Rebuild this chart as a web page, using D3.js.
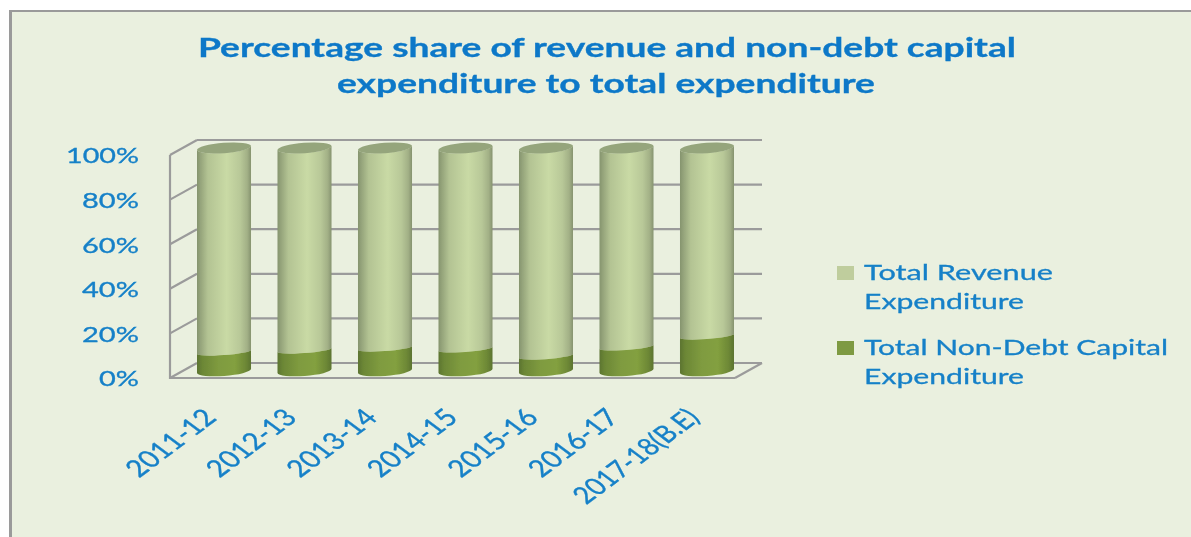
<!DOCTYPE html>
<html><head><meta charset="utf-8">
<script src="https://cdnjs.cloudflare.com/ajax/libs/d3/7.8.5/d3.min.js"></script>
<style>html,body{margin:0;padding:0;background:#fff;overflow:hidden}svg{display:block}text{font-family:Lato,sans-serif}</style>
</head><body><svg id="c" width="1191" height="537"></svg>
<script>
const categories=["2011-12","2012-13","2013-14","2014-15","2015-16","2016-17","2017-18(B.E)"];
const capitalShare=[8.5,9.4,10.3,9.9,6.7,10.8,15.7];
const revenueShare=[91.5,90.6,89.7,90.1,93.3,89.2,84.3];
const yTicks=[0,20,40,60,80,100];
const titleLines=["Percentage share of revenue and non-debt capital","expenditure to total expenditure"];
const legendItems=[{key:"revenue",lines:["Total Revenue","Expenditure"]},{key:"capital",lines:["Total Non-Debt Capital","Expenditure"]}];

const textBlue="#1580c8", grid="#9b9b9b";
const svg=d3.select("#c");
const defs=svg.append("defs");
defs.append("filter").attr("id","soft")
  .attr("filterUnits","userSpaceOnUse").attr("x",0).attr("y",0).attr("width",1191).attr("height",537)
  .append("feGaussianBlur").attr("stdDeviation",0.6);
function grad(id,stops){const g=defs.append("linearGradient").attr("id",id);
  stops.forEach(([o,c])=>g.append("stop").attr("offset",o).attr("stop-color",c));}
grad("gLight",[[0,"#85946e"],[.06,"#94a37a"],[.2,"#b3c393"],[.55,"#c9daa5"],[.8,"#b8c898"],[.93,"#a2b086"],[1,"#86936f"]]);
grad("gDark",[[0,"#5c7430"],[.1,"#6c8736"],[.4,"#7f9b3f"],[.7,"#83a03f"],[.9,"#6d8836"],[1,"#5c7430"]]);

// panel
svg.append("rect").attr("x",9).attr("y",10).attr("width",1182).attr("height",527).attr("fill","#9a9a9a");
svg.append("rect").attr("x",12).attr("y",12).attr("width",1179).attr("height",525).attr("fill","#eaf0df");

// scales
const yFront=d3.scaleLinear().domain([0,100]).range([378,155]);
const yCyl=d3.scaleLinear().domain([0,100]).range([373,150]);
const x=d3.scaleBand().domain(categories).range([197,734]).paddingInner(0.329).paddingOuter(0);
const xWall=d3.scaleLinear().domain([0,1]).range([170,735]);
const dx=27, dy=-15;

// walls
const wall=svg.append("g").attr("fill","none").attr("stroke",grid).attr("stroke-width",2.2).attr("filter","url(#soft)");
yTicks.forEach(t=>{
  const y=yFront(t);
  wall.append("line").attr("x1",xWall(0)).attr("y1",y).attr("x2",xWall(0)+dx).attr("y2",y+dy);
  wall.append("line").attr("x1",xWall(0)+dx).attr("y1",y+dy).attr("x2",xWall(1)+dx).attr("y2",y+dy);
});
wall.append("line").attr("x1",xWall(0)).attr("y1",yFront(100)).attr("x2",xWall(0)).attr("y2",yFront(0)+1);
wall.append("line").attr("x1",xWall(0)).attr("y1",yFront(0)).attr("x2",xWall(1)).attr("y2",yFront(0));
wall.append("line").attr("x1",xWall(1)).attr("y1",yFront(0)).attr("x2",xWall(1)+dx).attr("y2",yFront(0)+dy);

// cylinders
const rows=categories.map((c,i)=>({cat:c,capital:capitalShare[i],revenue:revenueShare[i]}));
const stacked=d3.stack().keys(["capital","revenue"])(rows);
const tilt=4, ryEnd=5.2, ryMid=3.2, rot=-4.3;
function seg(cat,lo,hi){
  const x0=x(cat), x1=x0+x.bandwidth(), rx=x.bandwidth()/2+0.1;
  const yl=yCyl(lo), yh=yCyl(hi);
  const ryL=lo<0.01?ryEnd:ryMid, ryH=hi>99.9?ryEnd:ryMid;
  return `M${x0},${yh}L${x0},${yl}A${rx},${ryL} ${rot} 0 0 ${x1},${yl-tilt}L${x1},${yh-tilt}A${rx},${ryH} ${rot} 0 1 ${x0},${yh}Z`;
}
const fills={capital:"url(#gDark)",revenue:"url(#gLight)"};
const columns=svg.append("g").attr("filter","url(#soft)");
[stacked[1],stacked[0]].forEach(s=>{
  columns.selectAll(null).data(s).enter().append("path")
    .attr("d",d=>seg(d.data.cat,d[0],d[1])).attr("fill",fills[s.key]);
});
columns.selectAll(null).data(categories).enter().append("ellipse")
  .attr("cx",d=>x(d)+x.bandwidth()/2).attr("cy",yCyl(100)-tilt/2)
  .attr("rx",x.bandwidth()/2+0.1).attr("ry",ryEnd)
  .attr("transform",d=>`rotate(${rot} ${x(d)+x.bandwidth()/2} ${yCyl(100)-tilt/2})`)
  .attr("fill","#95a57c");

// text layer
const txt=svg.append("g").attr("filter","url(#soft)");
function fit(sel,w){sel.attr("textLength",w).attr("lengthAdjust","spacingAndGlyphs");}

// title
const titleW=[818,538];
titleLines.forEach((t,i)=>{
  txt.append("text").attr("x",i?337:198).attr("y",i?93:57).text(t)
    .attr("font-size",27).attr("font-weight",700).attr("fill","#0a78c8")
    .attr("stroke","#0a78c8").attr("stroke-width",0.3).call(fit,titleW[i]);
});

// y axis
const labelW={0:40,20:57,40:57,60:57,80:57,100:73};
const yAxis=txt.append("g").attr("transform","translate(139,0)")
  .call(d3.axisLeft(yFront).tickValues(yTicks).tickFormat(d=>d+"%").tickSize(0).tickPadding(0));
yAxis.select(".domain").remove();
yAxis.selectAll("text").attr("font-size",21).attr("fill",textBlue).attr("font-family","Lato,sans-serif")
  .attr("x",0).attr("dy","0.38em").attr("text-anchor","end").attr("stroke",textBlue).attr("stroke-width",0.3)
  .each(function(d){d3.select(this).call(fit,labelW[d]);});

// x axis: the source picture was rotated, then stretched sideways
const xLabelW=c=>c.length>8?122:84;
const xAxis=txt.append("g").attr("transform","translate(0,419)")
  .call(d3.axisBottom(x).tickSize(0).tickPadding(0));
xAxis.select(".domain").remove();
xAxis.selectAll("text").attr("font-size",24).attr("fill",textBlue).attr("font-family","Lato,sans-serif")
  .attr("text-anchor","end").attr("x",0).attr("y",0).attr("dy",0).attr("stroke",textBlue).attr("stroke-width",0.35)
  .attr("transform","translate(-6,0) scale(1.33,1) rotate(-45)")
  .each(function(d){d3.select(this).call(fit,xLabelW(d));});

// legend
const legendW={"Total Revenue":189,"Total Non-Debt Capital":304,"Expenditure":160};
const legendTop=[280,355];
const swatch={revenue:"#bfcd9d",capital:"#7e9a42"};
legendItems.forEach((it,i)=>{
  txt.append("rect").attr("x",837).attr("y",legendTop[i]-14).attr("width",17).attr("height",14).attr("fill",swatch[it.key]);
  it.lines.forEach((l,j)=>{
    txt.append("text").attr("x",864).attr("y",legendTop[i]+j*29).text(l)
      .attr("font-size",22).attr("fill",textBlue).attr("stroke",textBlue).attr("stroke-width",0.3).call(fit,legendW[l]);
  });
});
</script></body></html>
